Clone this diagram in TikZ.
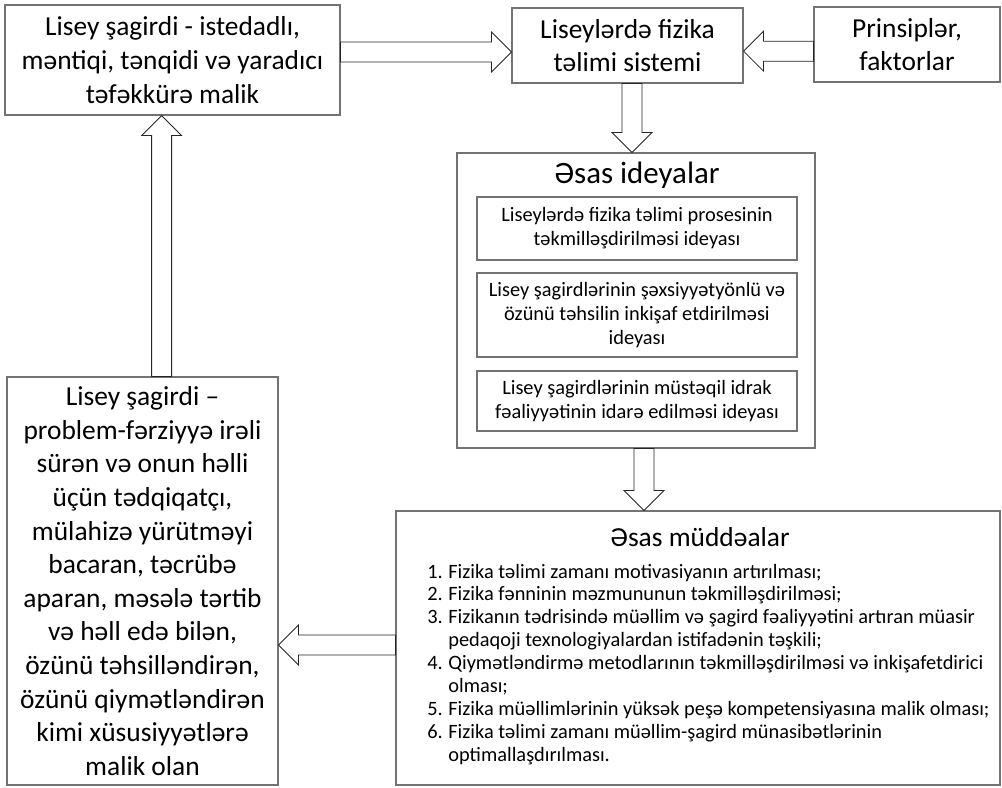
\documentclass[tikz,border=0pt]{standalone}
\usepackage{fontspec}
\setmainfont{Carlito}
\usepackage{tikz}
\usetikzlibrary{calc}

% hollow block arrow from #1 to #2
\newcommand{\hollowarrow}[2]{%
  \coordinate (ha-s) at (#1);
  \coordinate (ha-e) at (#2);
  \coordinate (ha-b) at ($(ha-e)!0.5cm!(ha-s)$);
  \draw[blockarrow] ($(ha-s)!0.25cm!90:(ha-e)$)
    -- ($(ha-b)!0.25cm!-90:(ha-s)$)
    -- ($(ha-b)!0.5cm!-90:(ha-s)$)
    -- (ha-e)
    -- ($(ha-b)!0.5cm!90:(ha-s)$)
    -- ($(ha-b)!0.25cm!90:(ha-s)$)
    -- ($(ha-s)!0.25cm!-90:(ha-e)$) -- cycle;}

\begin{document}
\begin{tikzpicture}[
    box/.style={draw=black!55, line width=0.8pt, align=center, inner sep=1pt},
    bigtext/.style={font=\fontsize{19.5}{23.9}\selectfont},
    smalltext/.style={font=\fontsize{14.5}{17}\selectfont},
    listtext/.style={font=\fontsize{14.5}{16.3}\selectfont},
    blockarrow/.style={draw=black!85, line width=0.6pt, fill=white, line join=miter}
]
\useasboundingbox (0,0) rectangle (25.05,-19.675);
% Top row
\node[box, bigtext, minimum width=8.375cm, minimum height=2.75cm] (talent) at (4.3125,-1.5)
    {Lisey şagirdi - istedadlı,\\ məntiqi, tənqidi və yaradıcı\\ təfəkkürə malik};
\node[box, bigtext, minimum width=5.775cm, minimum height=1.875cm] (system) at (15.6875,-1.1375)
    {Liseylərdə fizika\\ təlimi sistemi};
\node[box, bigtext, minimum width=4.65cm, minimum height=1.875cm] (principles) at (22.675,-1.1125)
    {Prinsiplər,\\ faktorlar};
% Main ideas
\node[box, minimum width=8.95cm, minimum height=7.375cm] (ideas) at (15.9,-7.5125) {};
\node[font=\fontsize{22}{26}\selectfont] (ideastitle) at (15.925,-4.375) {Əsas ideyalar};
\node[box, smalltext, minimum width=8cm, minimum height=1.575cm] (idea1) at (15.925,-5.7125)
    {Liseylərdə fizika təlimi prosesinin\\ təkmilləşdirilməsi ideyası};
\node[box, smalltext, minimum width=8cm, minimum height=2.1cm] (idea2) at (15.925,-7.875)
    {Lisey şagirdlərinin şəxsiyyətyönlü və\\ özünü təhsilin inkişaf etdirilməsi\\ ideyası};
\node[box, smalltext, minimum width=8cm, minimum height=1.5cm] (idea3) at (15.925,-10.025)
    {Lisey şagirdlərinin müstəqil idrak\\ fəaliyyətinin idarə edilməsi ideyası};
% Main theses
\node[box, minimum width=15.1cm, minimum height=6.85cm] (theses) at (17.45,-16.2) {};
\node[bigtext] (thesestitle) at (17.5,-13.425) {Əsas müddəalar};
\node[listtext, anchor=base west, inner sep=0pt] (thesislist) at (10.675,-14.45) {%
  \begin{tabular}[t]{@{}l@{\hspace{4pt}}l@{}}
  1. & Fizika təlimi zamanı motivasiyanın artırılması;\\
  2. & Fizika fənninin məzmununun təkmilləşdirilməsi;\\
  3. & Fizikanın tədrisində müəllim və şagird fəaliyyətini artıran müasir\\
     & pedaqoji texnologiyalardan istifadənin təşkili;\\
  4. & Qiymətləndirmə metodlarının təkmilləşdirilməsi və inkişafetdirici\\
     & olması;\\
  5. & Fizika müəllimlərinin yüksək peşə kompetensiyasına malik olması;\\
  6. & Fizika təlimi zamanı müəllim-şagird münasibətlərinin\\
     & optimallaşdırılması.
  \end{tabular}};
% Student profile
\node[box, bigtext, minimum width=6.775cm, minimum height=10.2cm] (student) at (3.5625,-14.525)
    {Lisey şagirdi –\\ problem-fərziyyə irəli\\ sürən və onun həlli\\ üçün tədqiqatçı,\\
     mülahizə yürütməyi\\ bacaran, təcrübə\\ aparan, məsələ tərtib\\ və həll edə bilən,\\
     özünü təhsilləndirən,\\ özünü qiymətləndirən\\ kimi xüsusiyyətlərə\\ malik olan};
% Arrows
\hollowarrow{talent.east |- 0,-1.3}{system.west |- 0,-1.3}
\hollowarrow{principles.west |- 0,-1.28}{system.east |- 0,-1.28}
\hollowarrow{15.8,0 |- system.south}{15.8,0 |- ideas.north}
\hollowarrow{16.1,0 |- ideas.south}{16.1,0 |- theses.north}
\hollowarrow{theses.west |- 0,-16.125}{student.east |- 0,-16.125}
\hollowarrow{4.04,0 |- student.north}{4.04,0 |- talent.south}
\end{tikzpicture}
\end{document}
